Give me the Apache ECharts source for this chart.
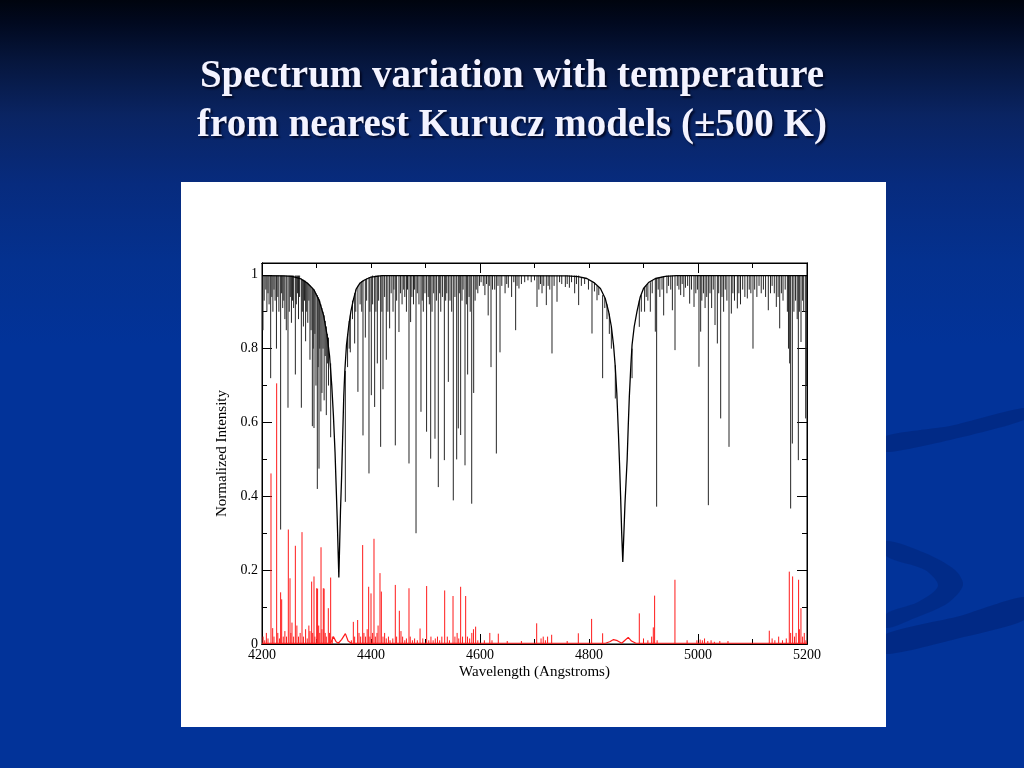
<!DOCTYPE html>
<html>
<head>
<meta charset="utf-8">
<script src="https://cdn.jsdelivr.net/npm/echarts@6/dist/echarts.min.js"></script>
<style>
  html, body { margin: 0; padding: 0; }
  body {
    width: 1024px; height: 768px; overflow: hidden;
    background: linear-gradient(to bottom, #00040e 0%, #01091f 3%, #06163d 8%, #0a2462 15%, #072b7e 24%, #04318f 34%, #023399 45%, #023399 100%);
  }
  #chart { width: 1024px; height: 768px; }
</style>
</head>
<body>
<div id="chart"></div>
<script>
// ---- Data ----
const titleText = 'Spectrum variation with temperature\nfrom nearest Kurucz models (\u00B1500 K)';
const xTicks = [4200, 4400, 4600, 4800, 5000, 5200];
const yTicks = [0, 0.2, 0.4, 0.6, 0.8, 1];
const continuumLevel = 0.998;

// Continuum + Balmer (Hgamma, Hbeta) profile of the model spectrum [wavelength, intensity]
const profile = [
  [4200,0.998],[4240,0.997],[4255,0.996],[4270,0.99],[4283,0.978],[4295,0.96],[4305,0.93],[4313,0.89],
  [4319,0.84],[4324,0.78],[4328,0.70],[4331,0.62],[4334,0.52],[4336,0.43],[4338,0.34],[4339.5,0.26],
  [4341,0.18],[4342.5,0.27],[4344,0.36],[4346,0.45],[4348,0.56],[4350,0.67],[4352,0.74],[4355,0.81],
  [4359,0.86],[4363,0.90],[4368,0.935],[4373,0.962],[4380,0.978],[4388,0.986],[4400,0.994],[4420,0.998],
  [4600,0.998],[4760,0.997],[4780,0.995],[4796,0.99],[4810,0.978],[4821,0.963],[4830,0.935],[4836,0.90],
  [4841,0.86],[4845,0.81],[4848,0.755],[4851,0.68],[4854,0.57],[4856,0.49],[4858,0.40],[4860,0.30],
  [4862,0.222],[4864,0.30],[4866,0.38],[4868,0.44],[4870,0.50],[4872,0.59],[4874,0.67],[4877,0.76],
  [4879,0.81],[4883,0.86],[4888,0.90],[4894,0.94],[4900,0.963],[4910,0.98],[4922,0.99],[4940,0.996],
  [4960,0.998],[5200,0.998]
];

// Narrow absorption lines from the continuum [wavelength, minimum intensity]
const absLines = [
  [4201.8,0.85],[4204,0.93],[4207,0.96],[4209,0.90],[4211,0.95],[4213,0.92],[4215.9,0.72],[4218,0.94],
  [4220,0.90],[4222,0.96],[4224,0.93],[4226.5,0.80],[4229,0.94],[4231,0.90],[4234.2,0.31],[4236,0.95],
  [4238,0.91],[4240,0.93],[4242,0.88],[4244.6,0.85],[4247.7,0.64],[4250,0.90],[4252,0.94],[4254,0.87],
  [4256,0.93],[4258,0.91],[4261.2,0.73],[4263,0.92],[4265,0.95],[4267,0.88],[4269,0.94],
  [4403,0.92],[4409,0.90],[4411.6,0.76],[4414,0.93],[4417.7,0.534],[4420,0.90],[4422,0.69],[4425,0.94],
  [4428.1,0.77],[4431,0.90],[4434.2,0.855],[4437,0.95],[4440.4,0.90],[4442,0.96],[4444.6,0.538],[4447,0.93],
  [4451.3,0.845],[4454,0.95],[4457,0.92],[4460,0.96],[4462,0.94],[4465,0.90],[4467,0.96],[4469.7,0.489],
  [4472.7,0.872],[4475,0.94],[4478,0.92],[4480,0.96],[4482.6,0.30],[4485,0.95],[4488,0.92],[4491.7,0.629],
  [4494,0.93],[4496,0.90],[4499,0.95],[4502,0.575],[4505,0.94],[4507,0.92],[4509.5,0.502],[4512,0.90],
  [4515,0.95],[4517.4,0.556],[4520,0.93],[4523.5,0.425],[4526,0.95],[4528,0.90],[4531,0.94],[4534.6,0.498],
  [4537,0.93],[4539,0.95],[4541.9,0.71],[4545,0.93],[4548,0.90],[4551,0.389],[4554,0.94],[4557.2,0.50],
  [4560.2,0.584],[4562,0.95],[4564.5,0.566],[4567,0.93],[4569,0.96],[4572.5,0.484],[4575,0.92],[4577.3,0.73],
  [4580,0.94],[4582,0.90],[4584.8,0.38],[4588.4,0.68],[4591,0.93],[4593,0.96],[4596,0.95],[4599,0.97],
  [4602,0.98],[4606,0.97],[4609,0.945],[4612,0.975],[4615,0.89],[4617,0.97],[4620.2,0.75],[4623,0.96],
  [4627,0.96],[4630,0.516],[4633,0.97],[4636.7,0.79],[4640,0.97],[4646,0.95],[4649,0.975],[4652,0.965],
  [4658,0.94],[4662,0.98],[4665.4,0.85],[4668,0.97],[4671.5,0.963],[4676,0.975],[4682,0.98],[4688,0.985],
  [4694,0.98],[4700,0.985],
  [4704.6,0.913],[4708,0.96],[4711,0.975],[4713.8,0.95],[4717,0.97],[4721.7,0.918],[4725,0.97],[4728,0.96],
  [4732.1,0.787],[4736,0.97],[4741.3,0.927],[4746,0.98],[4750,0.975],[4756.6,0.967],[4760,0.975],[4764,0.965],
  [4768,0.98],[4773.7,0.95],[4777,0.975],[4781,0.918],
  [4943,0.95],[4946,0.97],[4950,0.96],[4953,0.904],[4957.8,0.796],[4962,0.97],[4965,0.96],[4968.2,0.945],
  [4971,0.975],[4974,0.94],[4977,0.965],[4981,0.97],[4984.7,0.922],[4988,0.96],[4992.7,0.913],[4996,0.95],
  [4999,0.96],[5001.8,0.751],[5004.9,0.846],[5007,0.93],[5010,0.95],[5013,0.91],[5016,0.94],[5019,0.376],
  [5022,0.95],[5025,0.91],[5028,0.96],[5031.2,0.864],[5035.5,0.814],[5038,0.95],[5041.6,0.611],[5044,0.94],
  [5047,0.90],[5050,0.96],[5053,0.93],[5056.9,0.534],[5061.2,0.895],[5064,0.95],[5067,0.93],[5072.2,0.909],
  [5075,0.95],[5078,0.92],[5082,0.96],[5086,0.94],[5090.5,0.936],[5094,0.96],[5097,0.95],[5100.9,0.80],
  [5104,0.96],[5108,0.94],[5112,0.97],[5116,0.95],[5120,0.96],[5124,0.94],[5129,0.904],[5133,0.95],
  [5136,0.97],[5140,0.95],[5143.7,0.913],[5147,0.94],[5149.9,0.855],[5153,0.95],[5156,0.93],[5160,0.96],
  [5164,0.90],[5166,0.80],[5168.2,0.76],[5170,0.367],[5173.1,0.543],[5176,0.90],[5179,0.93],[5182,0.88],
  [5184.1,0.498],[5186,0.90],[5189,0.818],[5192,0.93],[5194,0.90],[5197.6,0.611],[5199.5,0.70]
];

// Absorption lines inside the Balmer wings [wavelength, wing level, minimum intensity]
const wingLines = [
  [4272.2,0.99,0.64],[4274,0.988,0.90],[4276,0.987,0.86],[4278,0.985,0.93],[4280,0.984,0.82],[4282,0.98,0.90],
  [4284,0.978,0.87],[4286,0.975,0.93],[4288,0.972,0.77],[4290,0.968,0.85],[4292.4,0.965,0.59],[4294,0.962,0.80],
  [4295.4,0.96,0.585],[4297,0.955,0.84],[4299,0.95,0.70],[4301.5,0.945,0.42],[4303,0.94,0.75],[4304.6,0.935,0.475],
  [4306,0.93,0.80],[4308,0.92,0.63],[4310,0.91,0.68],[4312,0.90,0.80],[4314,0.89,0.66],[4316,0.875,0.78],
  [4318,0.86,0.62],[4320,0.84,0.76],[4322,0.83,0.70],[4326,0.76,0.56],
  [4352.9,0.74,0.385],[4357,0.84,0.75],[4360,0.875,0.80],[4362,0.89,0.79],[4366,0.93,0.88],[4370,0.95,0.814],
  [4372,0.96,0.90],[4376,0.97,0.683],[4380,0.978,0.92],[4383,0.983,0.90],[4385.3,0.985,0.565],[4389.6,0.986,0.83],
  [4392,0.99,0.93],[4396.3,0.993,0.462],[4398,0.994,0.90],[4400.6,0.995,0.674],[4406.7,0.997,0.642],
  [4786,0.993,0.97],[4792,0.991,0.975],[4799,0.988,0.96],[4805.5,0.98,0.841],[4810,0.978,0.955],[4814.7,0.97,0.931],
  [4818,0.966,0.945],[4825,0.945,0.72],[4829,0.938,0.91],[4833,0.92,0.88],[4837.3,0.895,0.84],[4841,0.86,0.80],
  [4848.3,0.755,0.665],
  [4879,0.80,0.72],[4892.3,0.93,0.859],[4896,0.945,0.90],[4902,0.965,0.90],[4905,0.97,0.94],[4908,0.975,0.93],
  [4912.5,0.98,0.90],[4916,0.985,0.95],[4921.7,0.99,0.846],[4924.1,0.99,0.372],[4927,0.992,0.96],[4930,0.993,0.94],
  [4934,0.995,0.96],[4937,0.996,0.89]
];

// Difference spectrum (red): smooth baseline [wavelength, value]
const redBase = [
  [4200,0.002],[4326,0.002],[4331,0.02],[4336,0.006],[4340,0.002],[4346,0.012],[4353,0.028],[4358,0.008],
  [4364,0.002],[4830,0.002],[4838,0.006],[4845,0.012],[4852,0.009],[4860,0.002],[4866,0.01],[4872,0.018],
  [4878,0.008],[4886,0.002],[5200,0.002]
];

// Difference spectrum (red): spikes [wavelength, height]
const redSpikes = [
  [4202,0.02],[4205,0.01],[4208,0.03],[4211,0.015],[4216.5,0.462],[4219.6,0.043],[4222,0.02],[4226.9,0.706],
  [4229,0.03],[4232,0.015],[4234.2,0.14],[4236.1,0.121],[4239,0.02],[4242,0.035],[4245,0.02],[4248.3,0.31],
  [4251.4,0.178],[4253,0.03],[4255,0.058],[4258,0.02],[4261.2,0.266],[4264,0.05],[4267,0.02],[4270,0.03],
  [4273.4,0.303],[4276,0.02],[4280,0.04],[4283,0.015],[4286,0.05],[4288,0.035],[4291.1,0.169],[4293,0.03],
  [4295.4,0.183],[4297,0.02],[4300.3,0.151],[4302,0.15],[4304,0.05],[4306,0.03],[4308.3,0.262],[4310,0.04],
  [4312.5,0.151],[4314,0.15],[4316,0.03],[4318,0.02],[4321.7,0.097],[4324,0.03],[4326,0.18],[4329,0.02],
  [4364,0.01],[4367.6,0.06],[4370,0.02],[4375.5,0.065],[4378,0.03],[4381,0.02],[4384.7,0.268],[4387,0.03],
  [4390,0.02],[4393,0.04],[4395.7,0.155],[4398,0.02],[4400,0.137],[4403,0.03],[4405.5,0.285],[4408,0.02],
  [4411,0.03],[4413,0.05],[4416.5,0.192],[4419,0.142],[4422,0.02],[4425,0.03],[4428,0.015],[4432,0.02],
  [4435,0.01],[4440,0.015],[4444.6,0.16],[4447,0.02],[4452,0.09],[4455,0.035],[4458,0.02],[4462,0.01],
  [4465,0.015],[4469.7,0.151],[4472,0.02],[4476,0.01],[4480,0.015],[4485,0.01],[4490,0.042],[4495,0.015],
  [4502.1,0.157],[4506,0.01],[4510,0.02],[4514,0.01],[4518,0.015],[4522,0.02],[4526,0.01],[4530,0.02],
  [4535.2,0.145],[4540,0.02],[4544,0.01],[4550.5,0.13],[4554,0.02],[4558,0.03],[4561,0.015],[4564.5,0.155],
  [4568,0.02],[4573.7,0.13],[4577,0.02],[4581,0.015],[4585,0.03],[4588,0.04],[4592,0.047],[4596,0.01],
  [4608,0.01],[4618,0.03],[4622,0.01],[4633.6,0.028],[4650,0.008],[4676,0.008],[4704,0.056],[4712,0.015],
  [4716,0.02],[4720,0.01],[4724,0.02],[4731.5,0.025],[4760,0.008],[4780.4,0.029],[4804.8,0.068],[4825,0.029],
  [4892.3,0.083],[4900,0.015],[4908,0.01],[4915,0.02],[4918,0.045],[4920.4,0.131],[4925,0.01],[4957.7,0.174],
  [4980,0.01],[4998,0.01],[5004,0.012],[5008,0.01],[5012,0.015],[5018,0.008],[5024,0.01],[5030,0.006],
  [5040,0.008],[5055,0.008],[5130.8,0.036],[5136,0.015],[5141,0.01],[5148,0.02],[5155,0.01],[5162,0.015],
  [5167.5,0.196],[5170,0.03],[5173.6,0.183],[5177,0.02],[5180,0.03],[5184.6,0.174],[5186,0.04],[5188.9,0.097],
  [5192,0.02],[5195,0.03],[5198,0.01]
];

// ---- Chart ----
const chart = echarts.init(document.getElementById('chart'), null, { renderer: 'canvas' });
const SERIF = '"Liberation Serif", "Times New Roman", serif';

function segRender(color, width) {
  return function (params, api) {
    const x = api.value(0);
    const p1 = api.coord([x, api.value(1)]);
    const p2 = api.coord([x, api.value(2)]);
    return {
      type: 'line',
      shape: { x1: p1[0], y1: p1[1], x2: p2[0], y2: p2[1] },
      style: { stroke: color, lineWidth: width }
    };
  };
}

const yMax = 1.032;
function tickAxisX(pos, interval, len) {
  return {
    type: 'value', position: pos, min: 4200, max: 5200, interval: interval,
    axisLine: { show: true, onZero: false, lineStyle: { color: '#000', width: 1 } },
    axisTick: { show: true, inside: true, length: len, lineStyle: { color: '#000', width: 1 } },
    axisLabel: { show: false }, splitLine: { show: false }
  };
}
function tickAxisY(pos, interval, len) {
  return {
    type: 'value', position: pos, min: 0, max: yMax, interval: interval,
    axisLine: { show: true, onZero: false, lineStyle: { color: '#000', width: 1 } },
    axisTick: { show: true, inside: true, length: len, lineStyle: { color: '#000', width: 1 } },
    axisLabel: { show: false }, splitLine: { show: false }
  };
}

const option = {
  animation: false,
  backgroundColor: 'transparent',
  title: {
    text: titleText,
    left: 'center', top: 52, padding: 0,
    textStyle: {
      fontFamily: SERIF, fontWeight: 'bold', fontSize: 39, lineHeight: 49,
      color: '#f3f3ff',
      textShadowColor: 'rgba(0,0,20,0.75)', textShadowOffsetX: 2, textShadowOffsetY: 2, textShadowBlur: 2
    }
  },
  graphic: [
    { type: 'polygon', z: -20, shape: { points: [[886,436],[950,426],[1024,408],[1024,420],[950,440],[886,452]], smooth: 0.2 },
      style: { fill: 'rgba(0,25,100,0.35)' } },
    { type: 'polygon', z: -20, shape: { points: [[886,541],[925,553],[955,570],[963,585],[948,603],[915,618],[886,628],[886,614],[918,602],[938,586],[925,570],[886,556]], smooth: 0.3 },
      style: { fill: 'rgba(0,25,100,0.3)' } },
    { type: 'polygon', z: -20, shape: { points: [[886,634],[960,616],[1024,597],[1024,620],[960,638],[886,654]], smooth: 0.2 },
      style: { fill: 'rgba(0,25,100,0.38)' } },
    { type: 'rect', z: -10, shape: { x: 181, y: 182, width: 705, height: 545 }, style: { fill: '#ffffff' } }
  ],
  grid: { left: 262, right: 217, top: 263, bottom: 124, show: true, borderColor: '#000', borderWidth: 1, backgroundColor: 'transparent' },
  xAxis: [
    {
      type: 'value', position: 'bottom', min: 4200, max: 5200, interval: 200,
      axisLine: { show: true, onZero: false, lineStyle: { color: '#000', width: 1 } },
      axisTick: { show: false },
      axisLabel: { color: '#000', fontFamily: SERIF, fontSize: 14, margin: 4,
        formatter: function (v) { return xTicks.indexOf(Math.round(v)) >= 0 ? String(Math.round(v)) : ''; } },
      splitLine: { show: false },
      name: 'Wavelength (Angstroms)', nameLocation: 'middle', nameGap: 21,
      nameTextStyle: { color: '#000', fontFamily: SERIF, fontSize: 15 }
    },
    tickAxisX('bottom', 100, 5),
    tickAxisX('bottom', 400, 10),
    tickAxisX('top', 100, 5),
    tickAxisX('top', 400, 10)
  ],
  yAxis: [
    {
      type: 'value', position: 'left', min: 0, max: yMax, interval: 0.1,
      axisLine: { show: true, onZero: false, lineStyle: { color: '#000', width: 1 } },
      axisTick: { show: true, inside: true, length: 5, lineStyle: { color: '#000', width: 1 } },
      axisLabel: { color: '#000', fontFamily: SERIF, fontSize: 14, margin: 4,
        formatter: function (v) {
          for (let i = 0; i < yTicks.length; i++) { if (Math.abs(yTicks[i] - v) < 1e-6) return String(yTicks[i]); }
          return '';
        } },
      splitLine: { show: false },
      name: 'Normalized Intensity', nameLocation: 'middle', nameGap: 30,
      nameTextStyle: { color: '#000', fontFamily: SERIF, fontSize: 15 }
    },
    tickAxisY('left', 0.2, 10),
    tickAxisY('right', 0.1, 5),
    tickAxisY('right', 0.2, 10)
  ],
  series: [
    {
      name: 'difference', type: 'custom', xAxisIndex: 0, yAxisIndex: 0, clip: true, z: 2,
      renderItem: segRender('#ff1a1a', 1),
      encode: { x: 0, y: [1, 2] },
      data: redSpikes.map(function (d) { return [d[0], 0, d[1]]; })
    },
    {
      name: 'difference base', type: 'line', xAxisIndex: 0, yAxisIndex: 0, z: 2,
      showSymbol: false, symbol: 'none', clip: true,
      lineStyle: { color: '#ff1a1a', width: 1.2 },
      data: redBase
    },
    {
      name: 'lines', type: 'custom', xAxisIndex: 0, yAxisIndex: 0, clip: true, z: 3,
      renderItem: segRender('#262626', 1),
      encode: { x: 0, y: [1, 2] },
      data: absLines.map(function (d) { return [d[0], continuumLevel, d[1]]; })
    },
    {
      name: 'wing lines', type: 'custom', xAxisIndex: 0, yAxisIndex: 0, clip: true, z: 3,
      renderItem: segRender('#262626', 1),
      encode: { x: 0, y: [1, 2] },
      data: wingLines
    },
    {
      name: 'model', type: 'line', xAxisIndex: 0, yAxisIndex: 0, z: 4,
      showSymbol: false, symbol: 'none', clip: true,
      lineStyle: { color: '#000', width: 1.3 },
      data: profile
    }
  ]
};
chart.setOption(option);
</script>
</body>
</html>
